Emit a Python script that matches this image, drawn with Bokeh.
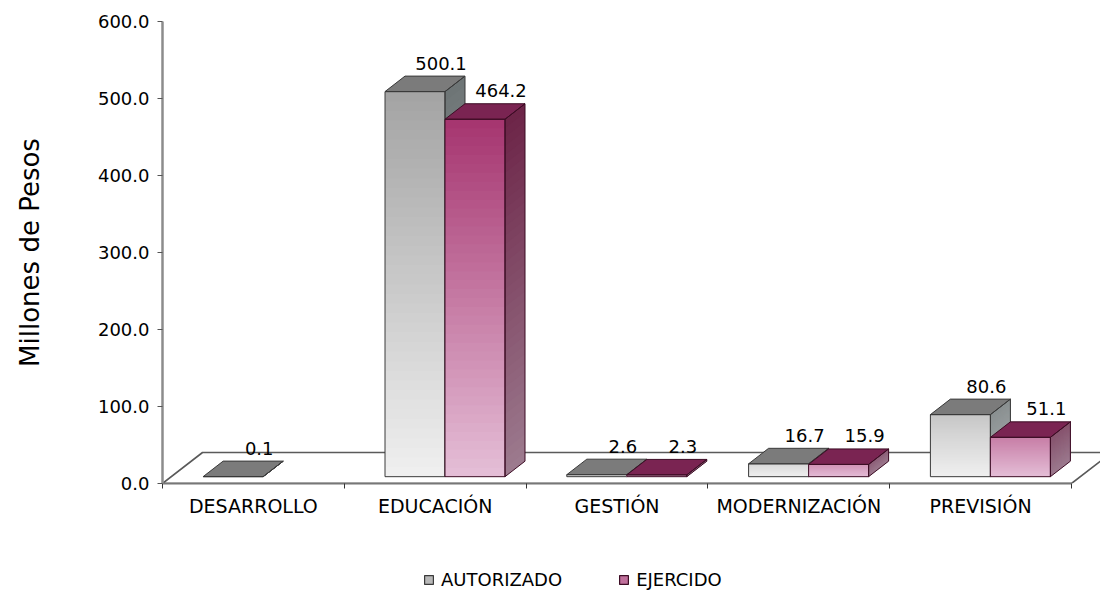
from bokeh.plotting import figure
from bokeh.layouts import column
from bokeh.models import (Range1d, FixedTicker, LinearAxis, Legend, LegendItem,
                          PrintfTickFormatter)
from bokeh.core.properties import value
from bokeh.embed import file_html
from bokeh.resources import INLINE

# ---------------- data ----------------
categories = ["DESARROLLO", "EDUCACIÓN", "GESTIÓN", "MODERNIZACIÓN", "PREVISIÓN"]
autorizado = [0.1, 500.1, 2.6, 16.7, 80.6]
ejercido = [None, 464.2, 2.3, 15.9, 51.1]
series_names = ["AUTORIZADO", "EJERCIDO"]
y_ticks = [0, 100, 200, 300, 400, 500, 600]
y_axis_title = "Millones de Pesos"

# ---------------- layout ----------------
FONT = "DejaVu Sans"
W = 1100
H_MAIN, H_LEG = 555, 35
LEFT, RIGHT, TOP = 162, 0, 21
FRAME_BOTTOM = 483
BOTTOM = H_MAIN - FRAME_BOTTOM
frame_w = W - LEFT - RIGHT
frame_h = FRAME_BOTTOM - TOP
N_CAT = len(categories)
CAT_PX = 181.8
X_END = frame_w / CAT_PX
Y_END = 600
sx = frame_w / X_END
sy = frame_h / Y_END


def px_x(px):
    return px / sx


def px_y(px):
    return px / sy


FLOOR_DX, FLOOR_DY = px_x(40), px_y(31)
BAR_W = px_x(60)
START, DEPTH = 0.22, 0.5
off_x, off_y = FLOOR_DX * START, FLOOR_DY * START
bdx, bdy = FLOOR_DX * DEPTH, FLOOR_DY * DEPTH

styles = [
    dict(front_bot="#efefef", front_top="#a2a2a2", side_bot="#a8adae", side_top="#6d7475",
         top="#7b7b7b", line="#3a3a3a", icon="#b8b8b8"),
    dict(front_bot="#e4bdd6", front_top="#a32f6b", side_bot="#9c7a8e", side_top="#6a2044",
         top="#7a2452", line="#3d0d25", icon="#c0709c"),
]


def hex2rgb(h):
    h = h.lstrip("#")
    return [int(h[i:i + 2], 16) for i in (0, 2, 4)]


def lerp(c1, c2, t):
    a, b = hex2rgb(c1), hex2rgb(c2)
    return "#%02x%02x%02x" % tuple(int(round(a[i] + (b[i] - a[i]) * t)) for i in range(3))


p = figure(width=W, height=H_MAIN, x_range=Range1d(0, X_END), y_range=Range1d(0, Y_END),
           output_backend="svg", toolbar_location=None,
           x_axis_location=None, y_axis_location=None,
           min_border_left=LEFT, min_border_right=RIGHT,
           min_border_top=TOP, min_border_bottom=BOTTOM)
p.outline_line_color = None
p.xgrid.visible = False
p.ygrid.visible = False
p.background_fill_color = "white"
p.border_fill_color = "white"

# floor
p.patch([0, N_CAT, N_CAT + FLOOR_DX, FLOOR_DX], [0, 0, FLOOR_DY, FLOOR_DY],
        fill_color="white", line_color="#5a5a5a", line_width=1.6)

# bars
N_STRIP = 40
label_x, label_y, label_t = [], [], []
for s, vals in enumerate([autorizado, ejercido]):
    st = styles[s]
    fxs, fys, fcols = [], [], []
    oxs, oys = [], []
    for i, v in enumerate(vals):
        if v is None:
            continue
        c = i + 0.5
        xl = c - BAR_W + off_x + s * BAR_W + px_x(1)
        xr = xl + BAR_W
        yb = off_y
        yt = yb + v
        hf = min(1.0, (v / 500.0) ** 0.35)
        for k in range(N_STRIP):
            t = k / N_STRIP
            y0 = yb + v * t
            fxs.append([xl, xr, xr, xl])
            fys.append([y0, y0, yt, yt])
            fcols.append(lerp(st["front_bot"], st["front_top"], t * hf))
        for k in range(N_STRIP):
            t = k / N_STRIP
            y0 = yb + v * t
            fxs.append([xr, xr + bdx, xr + bdx, xr])
            fys.append([y0, y0 + bdy, yt + bdy, yt])
            fcols.append(lerp(st["side_bot"], st["side_top"], t * hf))
        fxs.append([xl, xr, xr + bdx, xl + bdx])
        fys.append([yt, yt, yt + bdy, yt + bdy])
        fcols.append(st["top"])
        oxs += [[xl, xr, xr, xl], [xr, xr + bdx, xr + bdx, xr], [xl, xr, xr + bdx, xl + bdx]]
        oys += [[yb, yb, yt, yt], [yb, yb + bdy, yt + bdy, yt], [yt, yt, yt + bdy, yt + bdy]]
        label_x.append(xl + bdx + BAR_W / 2 + px_x(6))
        label_y.append(yt + bdy + px_y(13))
        label_t.append("%.1f" % v)
    p.patches(fxs, fys, fill_color=fcols, line_color=None)
    p.patches(oxs, oys, fill_color=None, line_color=st["line"], line_width=1.0)

p.text(label_x, label_y, text=label_t, text_font=value(FONT), text_font_size="18px",
       text_align="center", text_baseline="middle", text_color="black")

# y axis
yax = LinearAxis(ticker=FixedTicker(ticks=y_ticks), formatter=PrintfTickFormatter(format="%.1f"))
yax.axis_line_color = "#8c8c8c"
yax.axis_line_width = 2.5
yax.major_tick_line_color = "#555555"
yax.major_tick_out = 5
yax.major_tick_in = 0
yax.minor_tick_line_color = None
yax.major_label_text_font = FONT
yax.major_label_text_font_size = "18px"
yax.major_label_text_color = "black"
yax.major_label_standoff = 8
yax.axis_label = y_axis_title
yax.axis_label_text_font = FONT
yax.axis_label_text_font_size = "26px"
yax.axis_label_text_font_style = "normal"
yax.axis_label_text_color = "black"
yax.axis_label_standoff = 50
p.add_layout(yax, "left")

# x axis: labels at category centres, small ticks at category boundaries (minor ticks)
centers = [i + 0.5 for i in range(N_CAT)]
xax = LinearAxis(ticker=FixedTicker(ticks=centers, minor_ticks=list(range(N_CAT + 1))),
                 major_label_overrides={c: n for c, n in zip(centers, categories)},
                 bounds=(0, N_CAT))
xax.axis_line_color = "#777777"
xax.axis_line_width = 2
xax.major_tick_line_color = None
xax.major_tick_out = 5
xax.major_tick_in = 0
xax.minor_tick_line_color = "#333333"
xax.minor_tick_out = 5
xax.minor_tick_in = 0
xax.major_label_text_font = FONT
xax.major_label_text_font_size = "19px"
xax.major_label_text_color = "black"
xax.major_label_standoff = 6
p.add_layout(xax, "below")

# legend strip (separate small figure under the chart; its frame aligns with the chart's)
q = figure(width=W, height=H_LEG, x_range=Range1d(0, 1), y_range=Range1d(0, 1),
           output_backend="svg", toolbar_location=None,
           x_axis_location=None, y_axis_location=None,
           min_border_left=0, min_border_right=0, min_border_top=0, min_border_bottom=0)
q.outline_line_color = None
q.xgrid.visible = False
q.ygrid.visible = False
# legend-only renderers: their single quad lies outside the visible range
leg_r = [q.quad(left=[-3], right=[-2], top=[-2], bottom=[-3], fill_color=st["icon"],
                line_color=st["line"], line_width=1.2) for st in styles]
lg = Legend(items=[LegendItem(label=n, renderers=[r]) for n, r in zip(series_names, leg_r)],
            location=(261, 0), orientation="horizontal", glyph_width=11, glyph_height=11,
            label_standoff=7, padding=0, margin=0, spacing=56,
            border_line_color=None, background_fill_alpha=0,
            label_text_font=FONT, label_text_font_size="18px", label_text_color="black")
q.add_layout(lg, "center")

layout = column(p, q, spacing=0)
open("out.html", "w").write(file_html(layout, INLINE))
